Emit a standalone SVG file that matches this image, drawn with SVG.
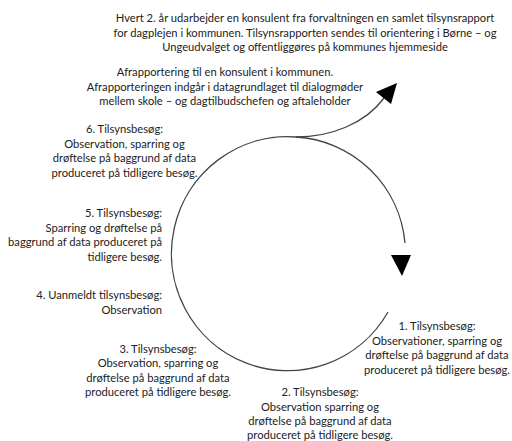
<svg xmlns="http://www.w3.org/2000/svg" width="512" height="441" viewBox="0 0 512 441">
<style>
text{font-family:Lato,"Open Sans","Liberation Sans",sans-serif;font-size:11.2px;fill:#222}
.c{text-anchor:middle}
.r{text-anchor:end}
.ln{fill:none;stroke:#444;stroke-width:1.3}
.ah{fill:#000}
</style>
<rect width="512" height="441" fill="#fff"/>
<g id="connectors">
<path class="ln" d="M296 137 A116 117 0 0 1 405 243"/>
<polygon class="ah" points="391,255 411,255 402,276"/>
<path class="ln" d="M388 312 A116 117 0 1 1 296 137"/>
<path class="ln" d="M296 137 C330 137 365 124 384 98"/>
<polygon class="ah" points="397,83 376,92 391,104"/>
</g>
<g id="report">
<text class="c" x="305" y="22">Hvert 2. år udarbejder en konsulent fra forvaltningen en samlet tilsynsrapport</text>
<text class="c" x="305" y="36.5">for dagplejen i kommunen. Tilsynsrapporten sendes til orientering i Børne – og</text>
<text class="c" x="305" y="51">Ungeudvalget og offentliggøres på kommunes hjemmeside</text>
</g>
<g id="afrapportering">
<text class="c" x="225" y="76">Afrapportering til en konsulent i kommunen.</text>
<text class="c" x="225" y="90.5">Afrapporteringen indgår i datagrundlaget til dialogmøder</text>
<text class="c" x="225" y="105">mellem skole – og dagtilbudschefen og aftaleholder</text>
</g>
<g id="besoeg6">
<text class="c" x="124.5" y="133">6. Tilsynsbesøg:</text>
<text class="c" x="124.5" y="147.5">Observation, sparring og</text>
<text class="c" x="124.5" y="162">drøftelse på baggrund af data</text>
<text class="c" x="124.5" y="176.5">produceret på tidligere besøg.</text>
</g>
<g id="besoeg5">
<text class="r" x="162" y="217">5. Tilsynsbesøg:</text>
<text class="r" x="162" y="231.5">Sparring og drøftelse på</text>
<text class="r" x="162" y="246">baggrund af data produceret på</text>
<text class="r" x="162" y="260.5">tidligere besøg.</text>
</g>
<g id="besoeg4">
<text class="r" x="162" y="299">4. Uanmeldt tilsynsbesøg:</text>
<text class="r" x="162" y="313.5">Observation</text>
</g>
<g id="besoeg3">
<text class="c" x="158" y="352.5">3. Tilsynsbesøg:</text>
<text class="c" x="158" y="367">Observation, sparring og</text>
<text class="c" x="158" y="381.5">drøftelse på baggrund af data</text>
<text class="c" x="158" y="396">produceret på tidligere besøg.</text>
</g>
<g id="besoeg1">
<text class="c" x="437" y="330">1. Tilsynsbesøg:</text>
<text class="c" x="437" y="344.5">Observationer, sparring og</text>
<text class="c" x="437" y="359">drøftelse på baggrund af data</text>
<text class="c" x="437" y="373.5">produceret på tidligere besøg.</text>
</g>
<g id="besoeg2">
<text class="c" x="320" y="396">2. Tilsynsbesøg:</text>
<text class="c" x="320" y="410.5">Observation sparring og</text>
<text class="c" x="320" y="425">drøftelse på baggrund af data</text>
<text class="c" x="320" y="439">produceret på tidligere besøg.</text>
</g>
</svg>
